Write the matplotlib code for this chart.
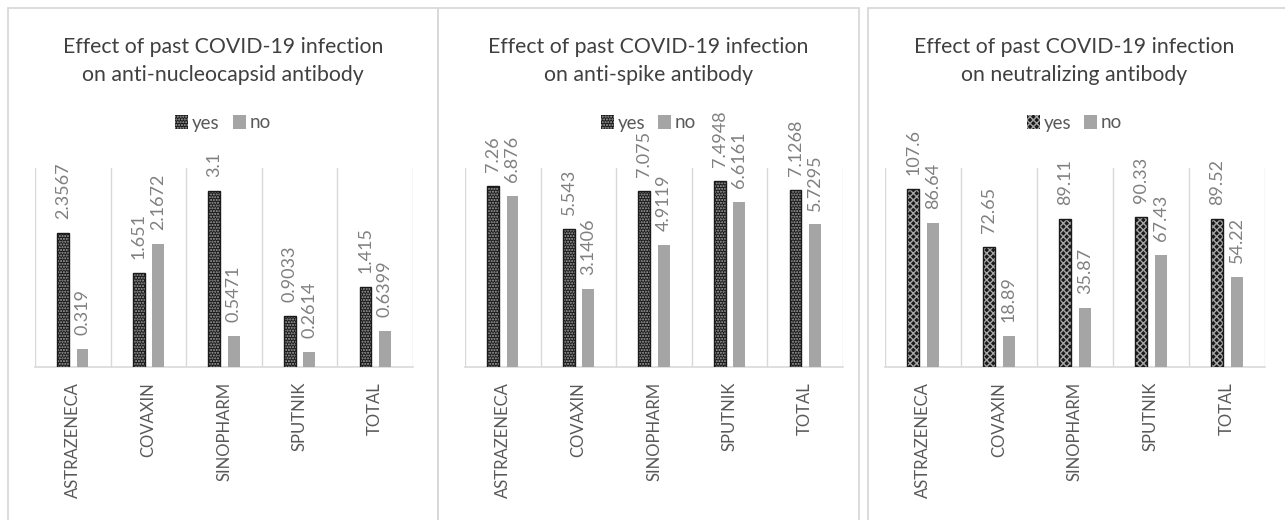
import numpy as np
import matplotlib
matplotlib.use('Agg')
import matplotlib.pyplot as plt
from matplotlib.patches import Rectangle, Patch

plt.rcParams['font.family'] = ['Lato', 'DejaVu Sans']

# Data
vaccines = ['ASTRAZENECA', 'COVAXIN', 'SINOPHARM', 'SPUTNIK', 'TOTAL']
series = ['yes', 'no']

nucleocapsid_yes = [2.3567, 1.651, 3.1, 0.9033, 1.415]
nucleocapsid_no = [0.319, 2.1672, 0.5471, 0.2614, 0.6399]

spike_yes = [7.26, 5.543, 7.075, 7.4948, 7.1268]
spike_no = [6.876, 3.1406, 4.9119, 6.6161, 5.7295]

neutral_yes = [107.6, 72.65, 89.11, 90.33, 89.52]
neutral_no = [86.64, 18.89, 35.87, 67.43, 54.22]

titles = ['Effect of past COVID-19 infection\non anti-nucleocapsid antibody',
          'Effect of past COVID-19 infection\non anti-spike antibody',
          'Effect of past COVID-19 infection\non neutralizing antibody']

W, H = 1285, 520
fig = plt.figure(figsize=(W / 100, H / 100), dpi=100)

panels = [(8, 438), (438, 859), (868, 1300)]
axes_x = [(35, 413), (465, 843), (885, 1265)]
ymax = [3.5, 8, 120]
hatches = ['......', '......', 'xxxxx']
data = [(nucleocapsid_yes, nucleocapsid_no),
        (spike_yes, spike_no),
        (neutral_yes, neutral_no)]

ax_top, ax_bot = 168, 367
grid_col = '#d9d9d9'

for i in range(3):
    px0, px1 = panels[i]
    fig.add_artist(Rectangle((px0 / W, -0.1), (px1 - px0) / W, 1.1 - 8 / H,
                             transform=fig.transFigure, fill=False,
                             edgecolor='#d9d9d9', linewidth=1.3))
    cx = (px0 + min(px1, 1281)) / 2
    fig.text(cx / W, 1 - 61 / H, titles[i], ha='center', va='center',
             fontsize=15.3, color='#404040', linespacing=1.45)

    x0, x1 = axes_x[i]
    ax = fig.add_axes([x0 / W, (H - ax_bot) / H, (x1 - x0) / W, (ax_bot - ax_top) / H])
    yes, no = data[i]
    x = np.arange(len(vaccines))
    w = 0.155
    off = 0.128
    ax.bar(x - off, yes, w, color='#1a1a1a', edgecolor='#a6a6a6',
           hatch=hatches[i], linewidth=0, zorder=3)
    ax.bar(x - off, yes, w, fill=False, edgecolor='#1a1a1a', linewidth=1.0, zorder=4)
    ax.bar(x + off, no, w, color='#a5a5a5', linewidth=0, zorder=3)

    pad = ymax[i] * 0.07
    for xi, v in zip(x, yes):
        ax.text(xi - off, v + pad, f'{v:g}', rotation=90, ha='center',
                va='bottom', fontsize=13, color='#808080')
    for xi, v in zip(x, no):
        ax.text(xi + off, v + pad, f'{v:g}', rotation=90, ha='center',
                va='bottom', fontsize=13, color='#808080')

    ax.set_xlim(-0.5, len(vaccines) - 0.5)
    ax.set_ylim(0, ymax[i])
    for s in ['top', 'right', 'left']:
        ax.spines[s].set_visible(False)
    ax.spines['bottom'].set_color(grid_col)
    ax.spines['bottom'].set_linewidth(1.2)
    ax.set_yticks([])
    ax.set_xticks([])
    for b in np.arange(-0.5, len(vaccines)):
        ax.axvline(b, color=grid_col, linewidth=1.0, zorder=1)
    for xi, name in zip(x, vaccines):
        ax.text(xi, -0.075, name, transform=ax.get_xaxis_transform(), rotation=90,
                ha='center', va='top', fontsize=12, color='#595959')

    handles = [Patch(facecolor='#1a1a1a', edgecolor='#a6a6a6', hatch=hatches[i], linewidth=0),
               Patch(facecolor='#a5a5a5', linewidth=0)]
    fig.legend(handles, series, loc='center', bbox_to_anchor=(cx / W, 1 - 123 / H),
               ncol=2, frameon=False, fontsize=13.5, handlelength=0.7,
               handleheight=0.7, handletextpad=0.2, columnspacing=0.7,
               labelcolor='#595959')

fig.savefig('out.png', dpi=100)
